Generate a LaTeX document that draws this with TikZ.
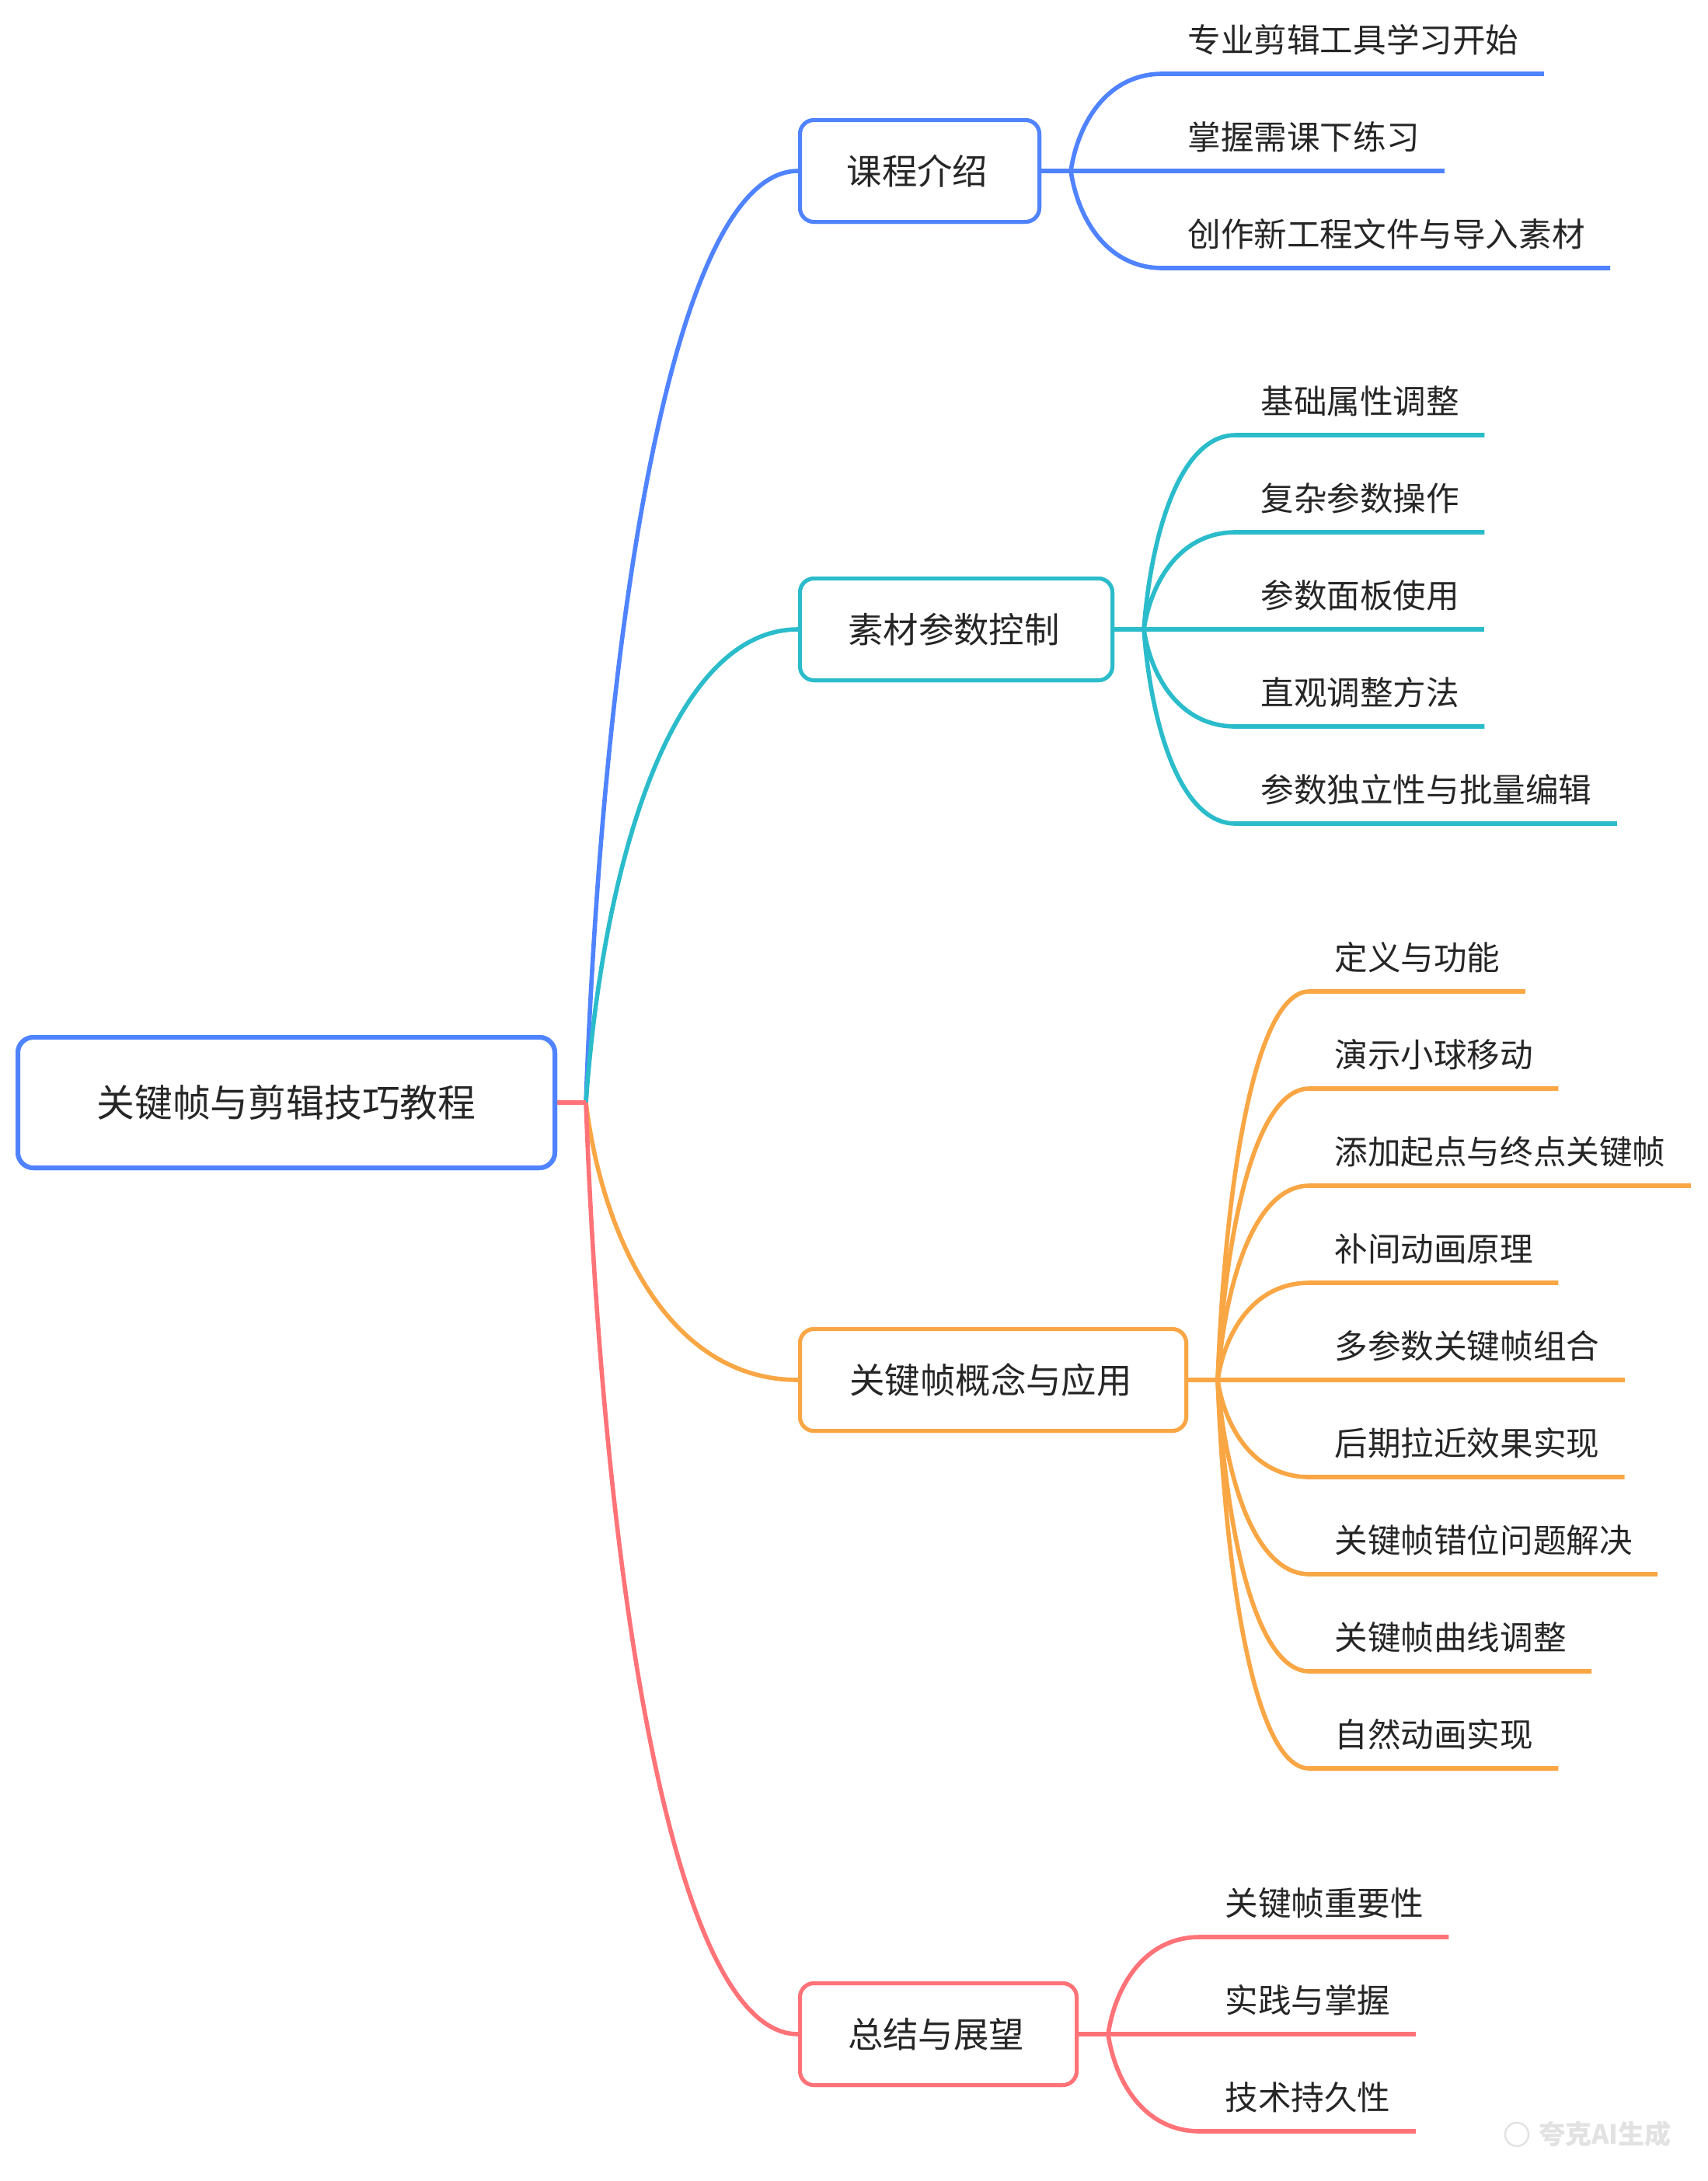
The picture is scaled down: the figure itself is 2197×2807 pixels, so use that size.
\documentclass[tikz,border=0pt]{standalone}
\usepackage{fontspec}
\setmainfont{Noto Sans CJK SC}
\usetikzlibrary{calc}
\definecolor{cblue}{HTML}{4F83FF}
\definecolor{ccyan}{HTML}{2BBCCB}
\definecolor{corange}{HTML}{F9A645}
\definecolor{cred}{HTML}{FF7378}
\definecolor{ctext}{HTML}{262626}
\definecolor{cwm}{HTML}{E2E2E2}
\begin{document}
\begin{tikzpicture}[x=0.5pt,y=-0.5pt,
  conn/.style={line width=2.8pt},
  mmcurve/.style={to path={let \p1=(\tikztostart), \p2=(\tikztotarget) in
     .. controls ({\x1+0.08*(\x2-\x1)},{\y1+0.5*(\y2-\y1)}) and ({\x1+0.4*(\x2-\x1)},{\y2}) .. (\tikztotarget) \tikztonodes}},
  rootbox/.style={draw=cblue, line width=3pt, rounded corners=10pt, fill=white,
     minimum width=345.5pt, minimum height=84pt, inner sep=0pt, text=ctext,
     font=\fontsize{24.4pt}{30pt}\selectfont},
  subbox/.style={line width=2.5pt, rounded corners=9pt, fill=white,
     minimum height=65.5pt, inner sep=0pt, text=ctext,
     font=\fontsize{22.7pt}{28pt}\selectfont},
  leaf/.style={inner sep=0pt, text=ctext, anchor=west,
     font=\fontsize{21.3pt}{26pt}\selectfont},
]
\useasboundingbox (0,0) rectangle (2197,2807);

% junctions
\coordinate (j0) at (754,1419);
\coordinate (j1) at (1378,220);
\coordinate (j2) at (1472,810);
\coordinate (j3) at (1567,1776);
\coordinate (j4) at (1426,2618);

% nodes
\node[rootbox] (root) at (368.5,1419) {关键帧与剪辑技巧教程};
\node[subbox, draw=cblue, minimum width=154pt] (b1) at (1183.5,220) {课程介绍};
\node[subbox, draw=ccyan, minimum width=201pt] (b2) at (1230.5,810) {素材参数控制};
\node[subbox, draw=corange, minimum width=248.5pt] (b3) at (1278,1776) {关键帧概念与应用};
\node[subbox, draw=cred, minimum width=178pt] (b4) at (1207.5,2618) {总结与展望};

% main branches
\draw[conn, cblue] (j0) to[mmcurve] (b1.west);
\draw[conn, ccyan] (j0) to[mmcurve] (b2.west);
\draw[conn, corange] (j0) to[mmcurve] (b3.west);
\draw[conn, cred] (j0) to[mmcurve] (b4.west);
\draw[conn, cred] (root.east) -- (j0);

% redraw boxes on top of the branch ends
\node[rootbox] at (root.center) {关键帧与剪辑技巧教程};
\node[subbox, draw=cblue, minimum width=154pt] at (b1.center) {课程介绍\hspace*{3pt}};
\node[subbox, draw=ccyan, minimum width=201pt] at (b2.center) {素材参数控制\hspace*{3pt}};
\node[subbox, draw=corange, minimum width=248.5pt] at (b3.center) {关键帧概念与应用\hspace*{3pt}};
\node[subbox, draw=cred, minimum width=178pt] at (b4.center) {总结与展望\hspace*{3pt}};

% stubs
\draw[conn, cblue] (b1.east) -- (j1);
\draw[conn, ccyan] (b2.east) -- (j2);
\draw[conn, corange] (b3.east) -- (j3);
\draw[conn, cred] (b4.east) -- (j4);

% leaves of branch 1
\foreach \t [count=\i] in {专业剪辑工具学习开始,掌握需课下练习,创作新工程文件与导入素材} {
  \pgfmathsetmacro\yy{220+(\i-2)*125}
  \node[leaf] (a\i) at (1528,\yy-43.5) {\t};
  \coordinate (ae\i) at (1496,\yy);
  \draw[conn, cblue] (j1) to[mmcurve] (ae\i) -- ($(a\i.east |- ae\i)+(32,0)$);
}
% leaves of branch 2
\foreach \t [count=\i] in {基础属性调整,复杂参数操作,参数面板使用,直观调整方法,参数独立性与批量编辑} {
  \pgfmathsetmacro\yy{810+(\i-3)*125}
  \node[leaf] (c\i) at (1622,\yy-43.5) {\t};
  \coordinate (ce\i) at (1590,\yy);
  \draw[conn, ccyan] (j2) to[mmcurve] (ce\i) -- ($(c\i.east |- ce\i)+(32,0)$);
}
% leaves of branch 3
\foreach \t [count=\i] in {定义与功能,演示小球移动,添加起点与终点关键帧,补间动画原理,多参数关键帧组合,后期拉近效果实现,关键帧错位问题解决,关键帧曲线调整,自然动画实现} {
  \pgfmathsetmacro\yy{1776+(\i-5)*125}
  \node[leaf] (o\i) at (1717,\yy-43.5) {\t};
  \coordinate (oe\i) at (1685,\yy);
  \draw[conn, corange] (j3) to[mmcurve] (oe\i) -- ($(o\i.east |- oe\i)+(32,0)$);
}
% leaves of branch 4
\foreach \t [count=\i] in {关键帧重要性,实践与掌握,技术持久性} {
  \pgfmathsetmacro\yy{2618+(\i-2)*125}
  \node[leaf] (r\i) at (1576,\yy-43.5) {\t};
  \coordinate (re\i) at (1544,\yy);
  \draw[conn, cred] (j4) to[mmcurve] (re\i) -- ($(r\i.east |- re\i)+(32,0)$);
}

% watermark
\node[draw=cwm, line width=1.2pt, circle, minimum size=15pt, inner sep=0pt] (wmlogo) at (1952,2747) {};
\node[inner sep=0pt, anchor=west, text=cwm, font=\bfseries\fontsize{17pt}{20pt}\selectfont] (wm) at (1980,2747) {夸克AI生成};
\end{tikzpicture}
\end{document}
